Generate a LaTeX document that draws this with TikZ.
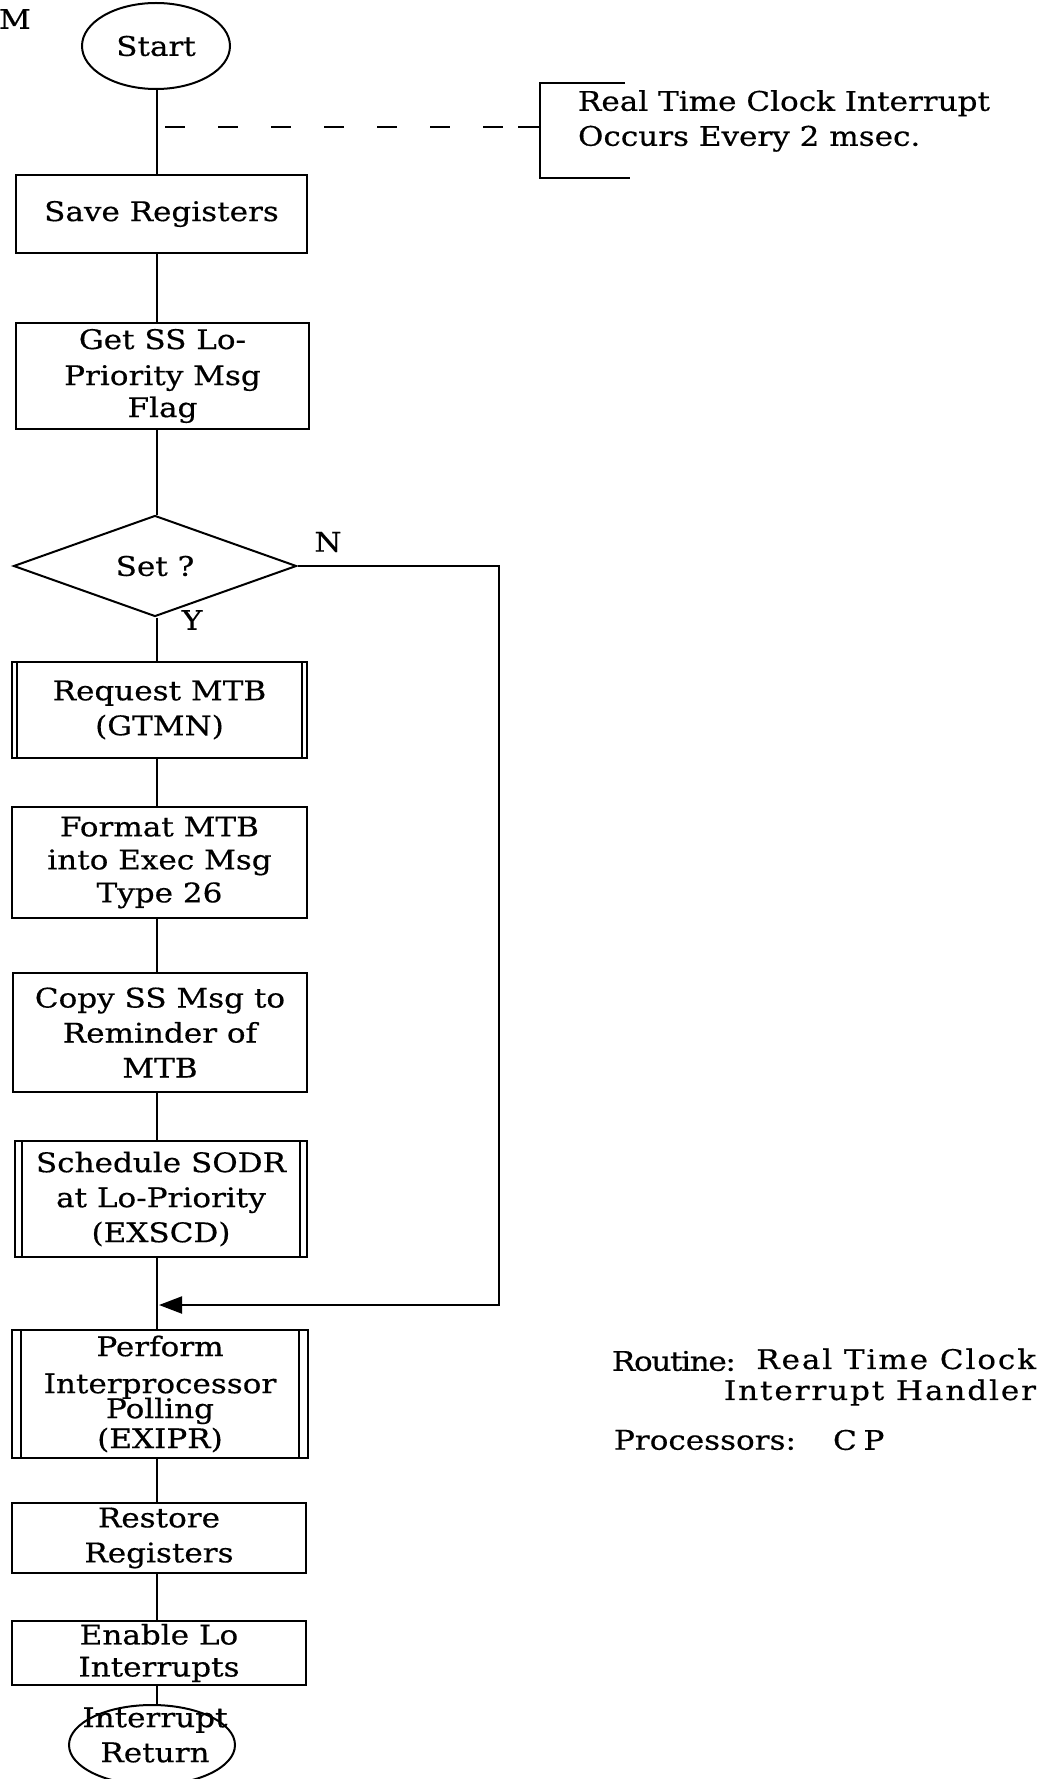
\documentclass[tikz,border=0pt]{standalone}
\usepackage{fontspec}
\setmainfont{DejaVu Serif}[FakeStretch=1.15,FakeBold=0.5]
\usetikzlibrary{shapes.geometric,arrows.meta}
\begin{document}
\begin{tikzpicture}[x=1pt,y=-1pt,line width=2pt,
  every node/.style={font=\fontsize{27}{35}\selectfont,inner sep=0pt},
  procbox/.style={draw,rectangle,align=center,inner sep=0pt},
  term/.style={draw,ellipse,inner sep=0pt},
  decision/.style={draw,diamond,inner sep=0pt},
  dashconn/.style={dash pattern=on 20pt off 33pt},
  joinarrow/.style={-{Triangle[length=23pt,width=17pt]}},
  spaced/.style={font=\fontsize{27}{35}\selectfont\addfontfeature{LetterSpace=7}},
  tight/.style={font=\fontsize{27}{35}\selectfont\addfontfeature{LetterSpace=-5}},
  widespaced/.style={font=\fontsize{27}{35}\selectfont\addfontfeature{LetterSpace=25}}]
\useasboundingbox (0,0) rectangle (1045,1779);
\fill[white] (0,0) rectangle (1045,1779);

\coordinate (spine) at (157,0);
\coordinate (nturn) at (499,0);
\coordinate (join) at (159,1305);
\coordinate (dashstart) at (165,127);
\coordinate (tick) at (518,127);

% terminals and boxes
\node[term,minimum width=148,minimum height=86] (start) at (156,46) {Start};
\node[procbox,minimum width=291,minimum height=78] (save) at (161.5,214) {Save Registers};
\node[procbox,minimum width=293,minimum height=106] (getss) at (162.5,376) {Get SS Lo-\\[1pt]Priority Msg\\[-3pt]Flag};
\node[decision,minimum width=283,minimum height=101] (dia) at (155,566) {Set ?};
\node[procbox,minimum width=295,minimum height=96] (req) at (159.5,710) {Request MTB\\(GTMN)};
\node[procbox,minimum width=295,minimum height=111] (fmt) at (159.5,862.5) {Format MTB\\[-2pt]into Exec Msg\\[-2pt]Type 26};
\node[procbox,minimum width=294,minimum height=119] (copy) at (160,1032.5) {Copy SS Msg to\\Reminder of\\MTB};
\node[procbox,minimum width=292,minimum height=116] (sched) at (161,1199) {Schedule SODR\\at Lo-Priority\\(EXSCD)};
\node[procbox,minimum width=296,minimum height=128] (perf) at (160,1394) {Perform\\[2pt]Interprocessor\\[-10pt]Polling\\[-5pt](EXIPR)};
\node[procbox,minimum width=294,minimum height=70] (rest) at (159,1538) {Restore\\Registers};
\node[procbox,minimum width=294,minimum height=64] (enab) at (159,1653) {Enable Lo\\[-3pt]Interrupts};
\node[term,minimum width=166,minimum height=80] (ret) at (152,1745) {};
\node[align=center] (retlabel) at (155,1735) {Interrupt\\Return};

% double side bars of subroutine boxes
\foreach \n/\d in {req/6,sched/8,perf/10}{
  \draw ([xshift=\d]\n.north west) -- ([xshift=\d]\n.south west);
  \draw ([xshift=-\d]\n.north east) -- ([xshift=-\d]\n.south east);
}

% main flow
\draw (start.south -| spine) -- (save.north -| spine);
\draw (save.south -| spine) -- (getss.north -| spine);
\draw (getss.south -| spine) -- (dia.north -| spine);
\draw (dia.south -| spine) -- (req.north -| spine);
\draw (req.south -| spine) -- (fmt.north -| spine);
\draw (fmt.south -| spine) -- (copy.north -| spine);
\draw (copy.south -| spine) -- (sched.north -| spine);
\draw (sched.south -| spine) -- (perf.north -| spine);
\draw (perf.south -| spine) -- (rest.north -| spine);
\draw (rest.south -| spine) -- (enab.north -| spine);
\draw (enab.south -| spine) -- (ret.north -| spine);

% N branch
\draw[joinarrow] (dia.east) -- (dia.east -| nturn) |- (join);
\node (nlab) at (328,542) {N};
\node (ylab) at (192,620) {Y};

% annotation
\draw[dashconn] (dashstart) -- (tick);
\draw (tick) -- (540,127);
\draw (625,83) -- (540,83) -- (540,178) -- (630,178);
\node[anchor=west,align=left] (note) at (577,121) {Real Time Clock Interrupt\\Occurs Every 2 msec.};

% top-left fragment
\node[anchor=west] (mlab) at (-2,19) {M};

% routine info
\node[tight,anchor=west] (rout) at (611,1361) {Routine:};
\node[spaced,anchor=east,align=right] (routname) at (1037,1377) {Real Time Clock\\[-4pt]Interrupt Handler};
\node[anchor=west] (proc) at (613,1440) {Processors:};
\node[widespaced,anchor=west] (cp) at (832,1440) {CP};
\end{tikzpicture}
\end{document}
